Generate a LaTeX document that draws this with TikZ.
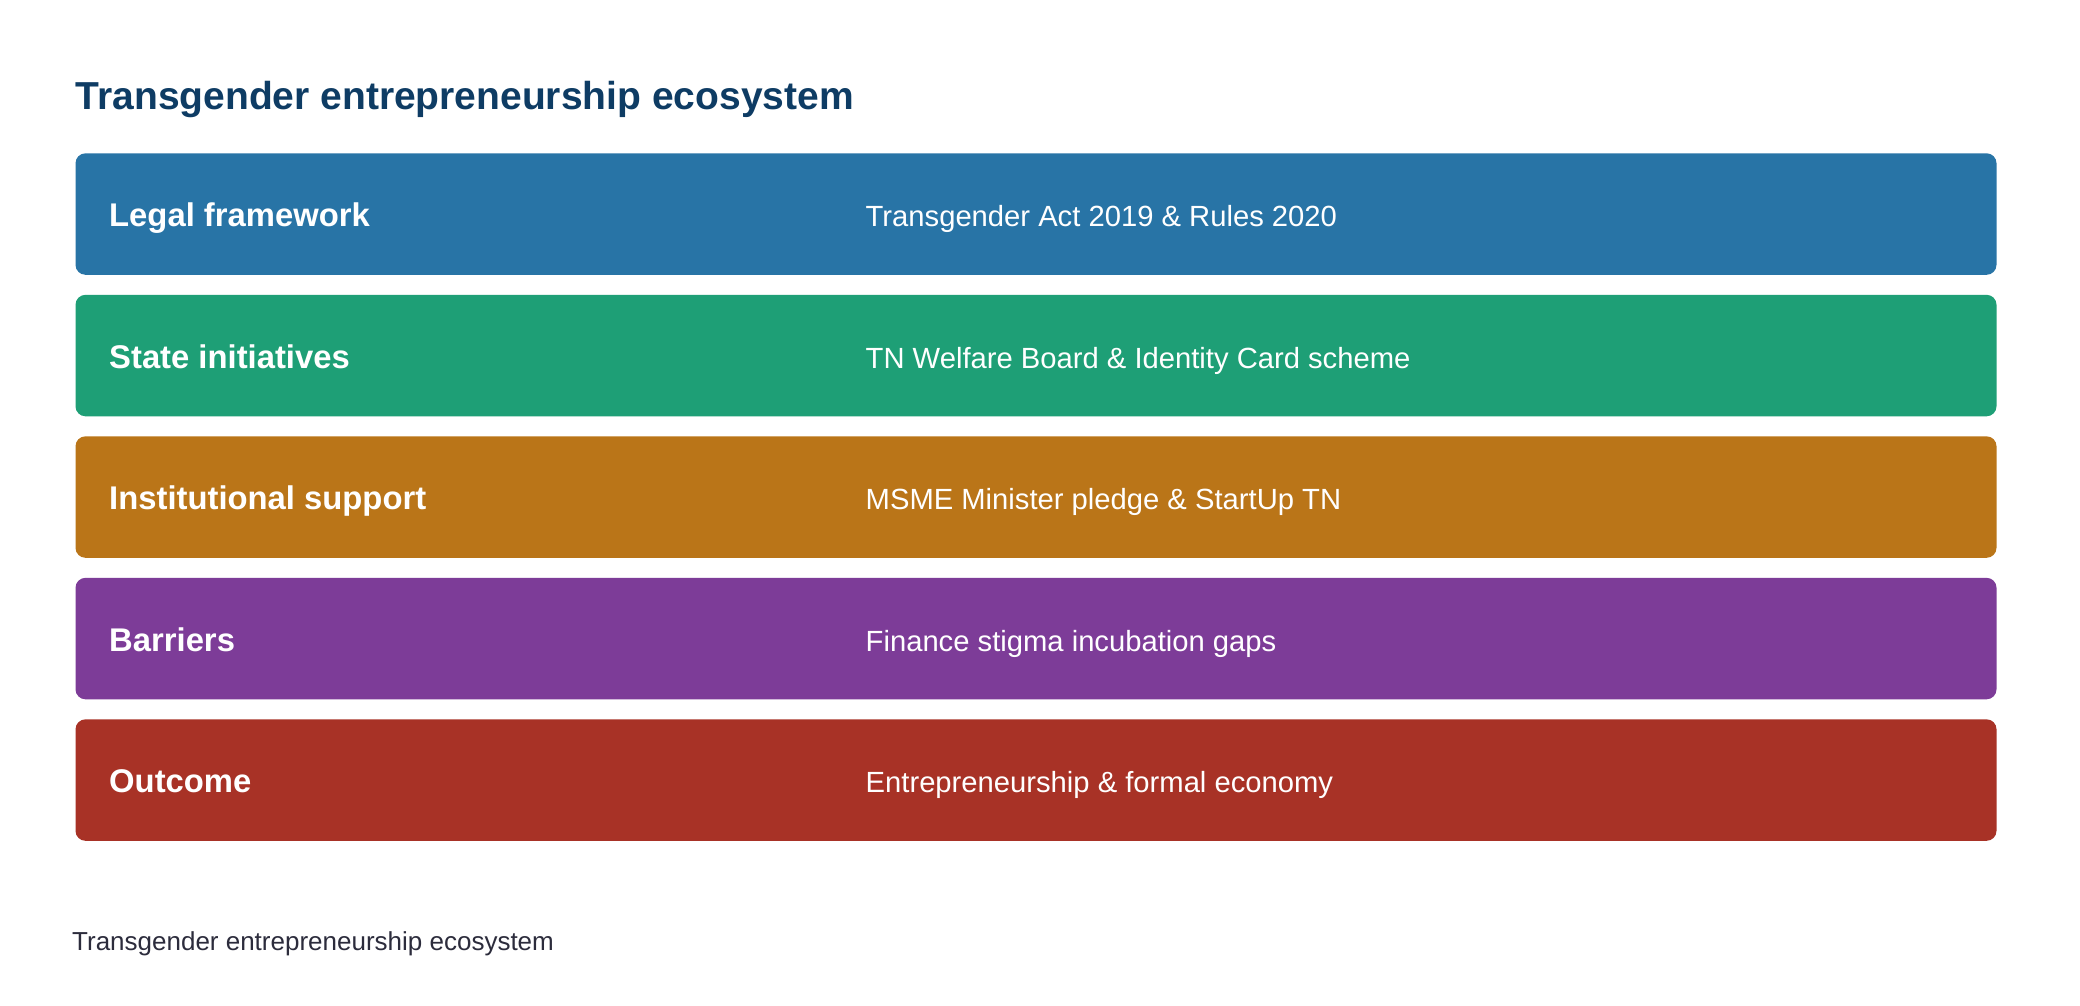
\documentclass[tikz,border=0pt]{standalone}
\usepackage{fontspec}
\setmainfont{Liberation Sans}
\definecolor{titlec}{HTML}{0E3C64}
\definecolor{footc}{HTML}{2C2C3C}
\definecolor{cblue}{HTML}{2874A6}
\definecolor{cgreen}{HTML}{1E9F76}
\definecolor{corange}{HTML}{BA7518}
\definecolor{cpurple}{HTML}{7D3C98}
\definecolor{cred}{HTML}{A83226}
\begin{document}
\begin{tikzpicture}[x=1pt,y=-1pt,
  rowbox/.style={rectangle, rounded corners=10pt, draw=none, minimum width=1921pt, minimum height=121.5pt, anchor=north west, inner sep=0pt, outer sep=0pt},
  rowlabel/.style={anchor=base west, inner sep=0pt, text=white, font=\fontsize{32.8}{39}\selectfont\bfseries},
  rowvalue/.style={anchor=base west, inner sep=0pt, text=white, font=\fontsize{29.2}{35}\selectfont},
]
\useasboundingbox (0,0) rectangle (2080,1006);
\fill[white] (0,0) rectangle (2080,1006);
\node[anchor=base west, inner sep=0pt, text=titlec, font=\fontsize{39}{47}\selectfont\bfseries] (title) at (75.5,109.3) {Transgender entrepreneurship ecosystem};
\node[rowbox, fill=cblue] (b1) at (75.5,153.3) {};
\node[rowbox, fill=cgreen] (b2) at (75.5,294.8) {};
\node[rowbox, fill=corange] (b3) at (75.5,436.3) {};
\node[rowbox, fill=cpurple] (b4) at (75.5,577.8) {};
\node[rowbox, fill=cred] (b5) at (75.5,719.3) {};
\foreach \i/\lab/\val in {1/Legal framework/Transgender Act 2019 \& Rules 2020,
                          2/State initiatives/TN Welfare Board \& Identity Card scheme,
                          3/Institutional support/MSME Minister pledge \& StartUp TN,
                          4/Barriers/Finance stigma incubation gaps,
                          5/Outcome/Entrepreneurship \& formal economy}{
  \path (b\i.west) ++(33.5,12.5) node[rowlabel] (l\i) {\lab};
  \path (b\i.west) ++(790,12.5) node[rowvalue] (v\i) {\val};
}
\node[anchor=base west, inner sep=0pt, text=footc, font=\fontsize{26}{31}\selectfont] (foot) at (72,950) {Transgender entrepreneurship ecosystem};
\end{tikzpicture}
\end{document}
